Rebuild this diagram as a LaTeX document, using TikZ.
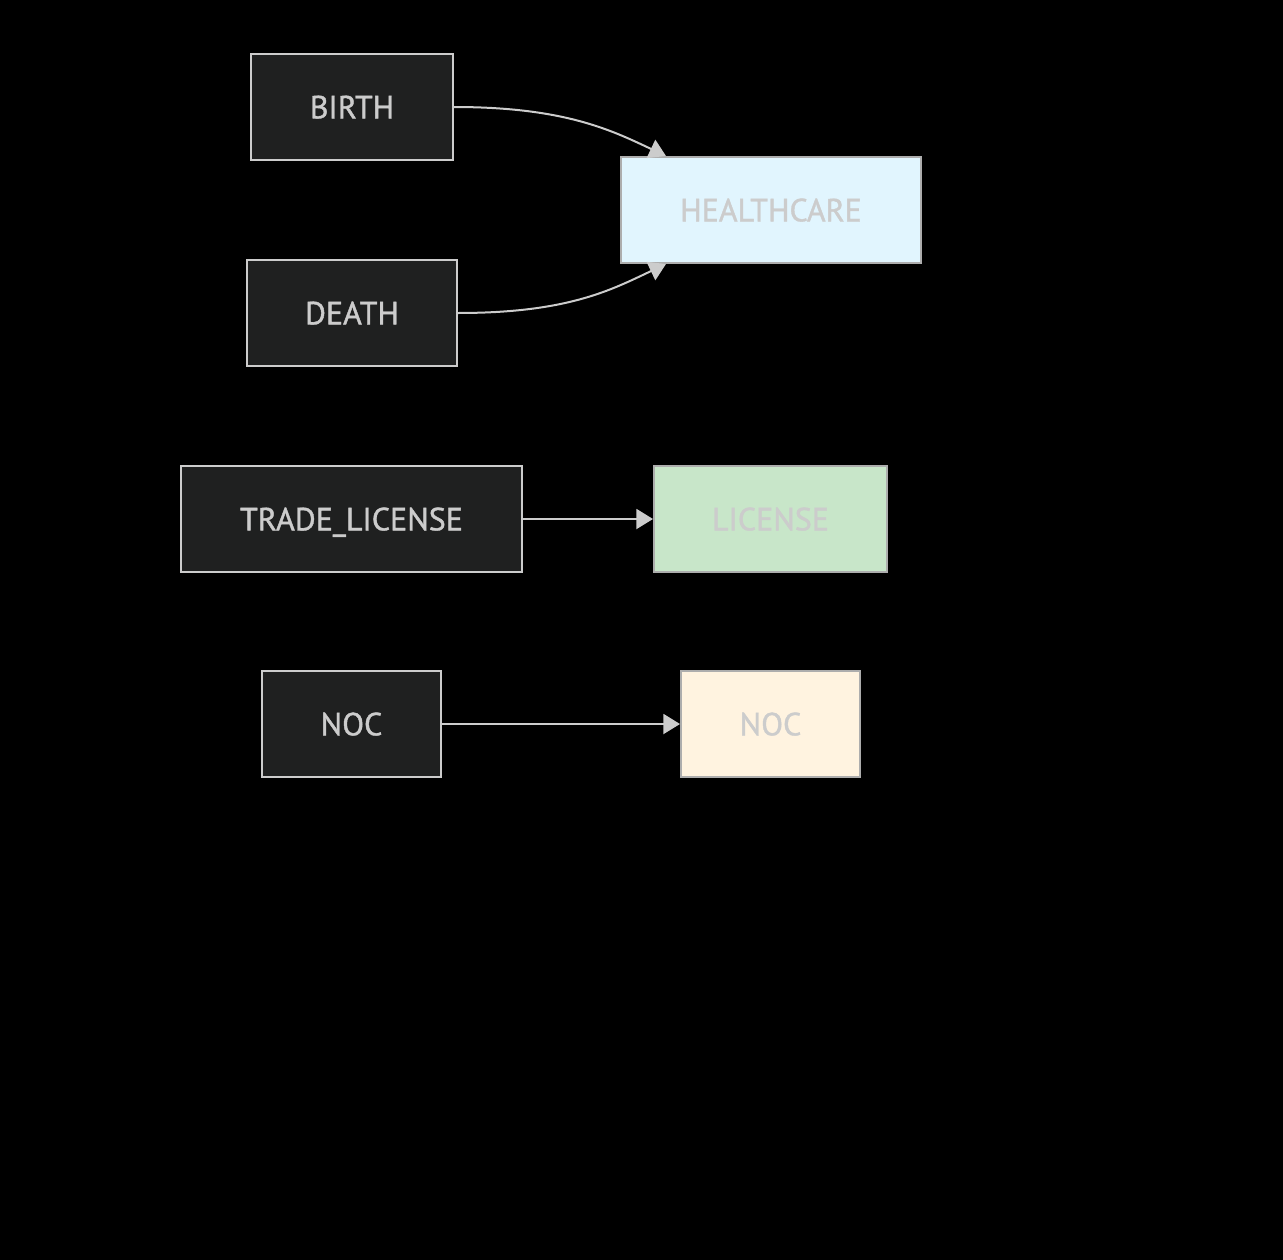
\documentclass[tikz,border=0pt]{standalone}
\usepackage{fontspec}
\setmainfont{PT Sans}
\newfontfamily\boxfont[FakeBold=1.2]{PT Sans}
\usetikzlibrary{arrows.meta}
\definecolor{boxFill}{HTML}{1F2020}
\definecolor{lineGray}{HTML}{CCCCCC}
\definecolor{healthFill}{HTML}{E1F5FE}
\definecolor{licenseFill}{HTML}{C8E6C9}
\definecolor{nocFill}{HTML}{FFF3E0}
\tikzset{>={Triangle[width=15pt,length=12.5pt]}}

\begin{document}
\begin{tikzpicture}[
    x = 0.75pt, y = -0.75pt,
    srcbox/.style = {draw=lineGray, line width=1.5pt, fill=boxFill,
        text=lineGray, minimum height=79.5pt, inner sep=0pt,
        text height=17pt, text depth=0pt,
        font=\boxfont\fontsize{24}{28}\selectfont},
    dstbox/.style = {srcbox, draw=lineGray!85!black},
    flow/.style = {->, draw=lineGray, line width=1.5pt}
  ]
  \fill[black] (0,0) rectangle (1283,1260);

  % sources
  \node[srcbox, minimum width=151.5pt] (BIRTH) at (352,107) {BIRTH};
  \node[srcbox, minimum width=157.5pt] (DEATH) at (352,313) {DEATH};
  \node[srcbox, minimum width=255.75pt] (TRADE) at (351.5,519) {TRADE\_LICENSE};
  \node[srcbox, minimum width=134.25pt] (NOCSRC) at (351.5,724) {NOC};

  % targets
  \node[dstbox, fill=healthFill, minimum width=225pt] (HEALTH) at (771,210) {HEALTHCARE};
  \node[dstbox, fill=licenseFill, minimum width=174.75pt] (LICENSE) at (770.5,519) {LICENSE};
  \node[dstbox, fill=nocFill, minimum width=134.25pt] (NOCDST) at (770.5,724) {NOC};

  \coordinate (HTOP) at ([xshift=34.5pt]HEALTH.north west);
  \coordinate (HBOT) at ([xshift=34.5pt]HEALTH.south west);

  \draw[flow] (BIRTH.east) .. controls +(110,0) and +(-55,-26) .. (HTOP);
  \draw[flow] (DEATH.east) .. controls +(110,0) and +(-55,26) .. (HBOT);
  \draw[flow] (TRADE.east) -- (LICENSE.west);
  \draw[flow] (NOCSRC.east) -- (NOCDST.west);
\end{tikzpicture}
\end{document}
